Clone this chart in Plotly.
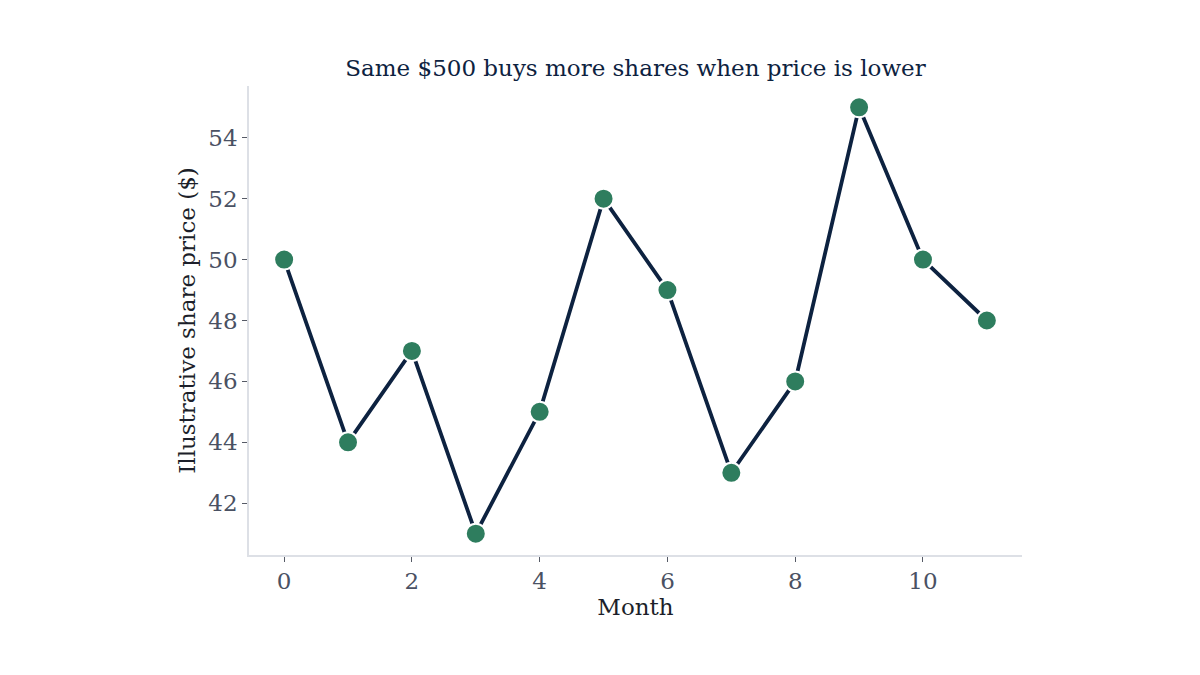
import plotly.graph_objects as go

months = [0, 1, 2, 3, 4, 5, 6, 7, 8, 9, 10, 11]
prices = [50, 44, 47, 41, 45, 52, 49, 43, 46, 55, 50, 48]
x_ticks = [0, 2, 4, 6, 8, 10]
y_ticks = [42, 44, 46, 48, 50, 52, 54]

FONT = "DejaVu Serif"
fig = go.Figure()
fig.add_trace(go.Scatter(
    x=months, y=prices, mode="lines+markers",
    line=dict(color="#0d2240", width=3.8),
    marker=dict(size=20, color="#2e7d5e", line=dict(color="white", width=2)),
    showlegend=False,
))
axis_common = dict(
    showgrid=False, zeroline=False, showline=True, linecolor="#dde0e6", linewidth=1.5,
    ticks="outside", ticklen=5, tickcolor="#555a66", tickwidth=1,
    tickfont=dict(family=FONT, size=23, color="#4a5163"),
    title_font=dict(family=FONT, size=23, color="#1c1f2a"),
)
fig.update_xaxes(range=[-0.55, 11.55], tickvals=x_ticks, title_text="Month",
                 title_standoff=1, **axis_common)
fig.update_yaxes(range=[40.3, 55.7], tickvals=y_ticks, title_text="Illustrative share price ($)",
                 title_standoff=6, **axis_common)
fig.update_layout(
    width=1200, height=675,
    paper_bgcolor="white", plot_bgcolor="white",
    margin=dict(l=241, r=186, t=78, b=128),
    title=dict(text="Same $500 buys more shares when price is lower",
               font=dict(family=FONT, size=23, color="#0d2240"),
               x=0.5, xanchor="center", xref="paper",
               y=1, yref="paper", yanchor="bottom", pad=dict(b=10)),
)
fig.write_html("out.html")
